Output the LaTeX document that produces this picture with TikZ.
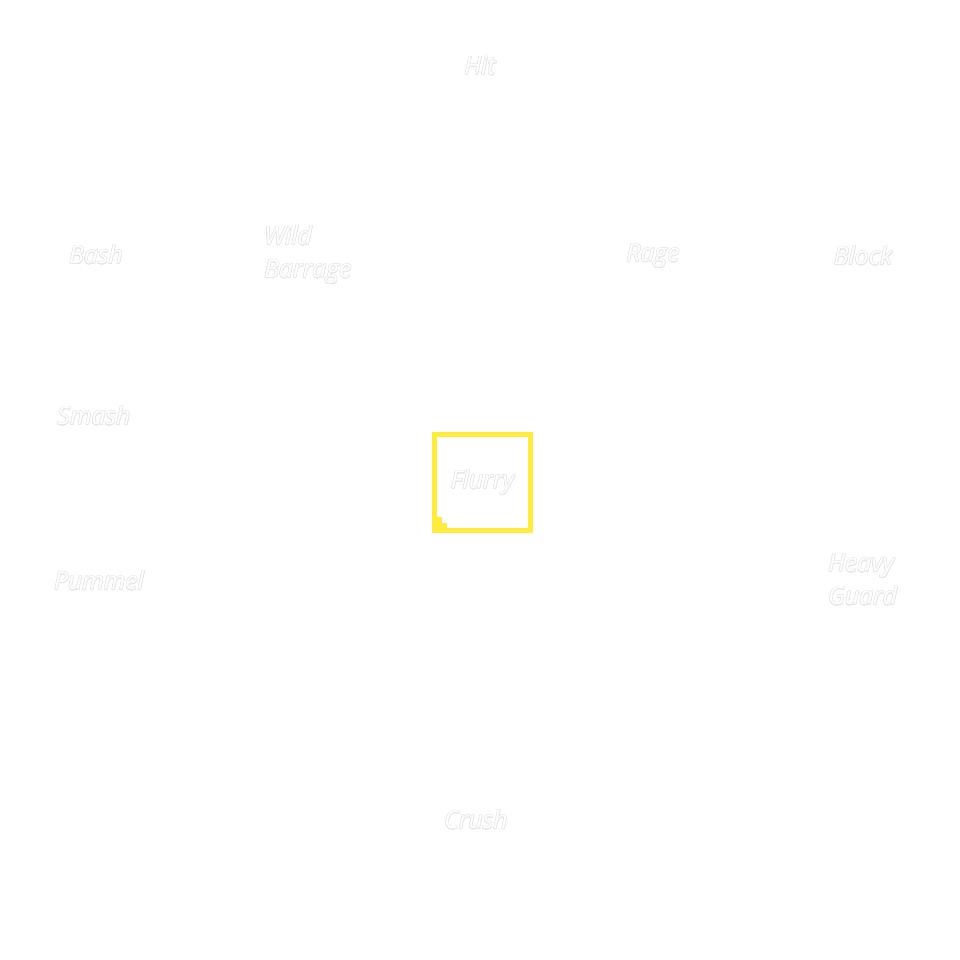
\documentclass[tikz,border=0pt]{standalone}
\usepackage{fontspec}
\usepackage{contour}
\contourlength{0.4pt}
\contournumber{16}
\setmainfont{Open Sans}
\definecolor{flurryyellow}{RGB}{255,235,59}
\definecolor{halo}{RGB}{230,230,230}
\newcommand{\ghost}[1]{\contour{halo}{#1}}
\begin{document}
\begin{tikzpicture}[x=0.75pt,y=-0.75pt,
  lbl/.style={text=white,font=\itshape\fontsize{18.5pt}{24.75pt}\selectfont,inner sep=0pt,align=left},
  hub/.style={lbl,draw=flurryyellow,line width=3.75pt,minimum size=72pt,align=center}]
\fill[white] (0,0) rectangle (960,960);
\useasboundingbox (0,0) rectangle (960,960);
\node[hub] (flurry) at (482.5,482.5) {\ghost{Flurry}};
\fill[flurryyellow] (437,528.5) -- (437,517) -- (442,517) -- (442,523) -- (447,523) -- (447,528.5) -- cycle;
\node[lbl] (hit) at (480,66) {\ghost{Hit}};
\node[lbl,anchor=west] (wild) at (264,255) {\ghost{Wild}\\\ghost{Barrage}};
\node[lbl] (bash) at (96,255) {\ghost{Bash}};
\node[lbl] (rage) at (653,256) {\ghost{Rage}};
\node[lbl] (block) at (863,256) {\ghost{Block}};
\node[lbl] (smash) at (94,416) {\ghost{Smash}};
\node[lbl] (pummel) at (99,581) {\ghost{Pummel}};
\node[lbl,anchor=west] (heavy) at (828,580) {\ghost{Heavy}\\\ghost{Guard}};
\node[lbl] (crush) at (476,820) {\ghost{Crush}};
\end{tikzpicture}
\end{document}
